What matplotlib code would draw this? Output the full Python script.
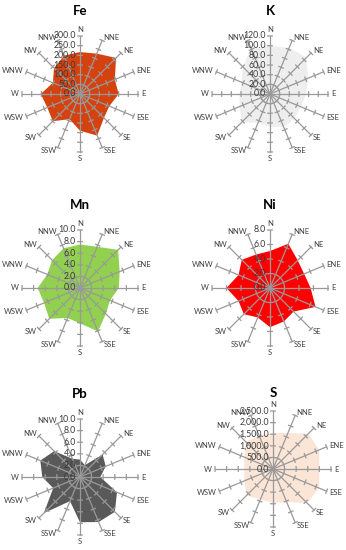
import numpy as np
import matplotlib
matplotlib.use('Agg')
import matplotlib.pyplot as plt
from matplotlib.transforms import offset_copy

plt.rcParams['font.family'] = ['Lato', 'DejaVu Sans']

directions = ['N', 'NNE', 'NE', 'ENE', 'E', 'ESE', 'SE', 'SSE',
              'S', 'SSW', 'SW', 'WSW', 'W', 'WNW', 'NW', 'NNW']

fe = [217, 226, 264, 195, 200, 164, 175, 233, 190, 141, 199, 183, 203, 152, 190, 215]
k = [100, 103, 107, 85, 75, 69, 72, 74, 68, 64, 83, 68, 63, 64, 79, 103]
mn = [7.5, 7.7, 9.3, 7.4, 6.7, 5.6, 6.3, 8.1, 6.1, 5.6, 7.5, 6.7, 7.3, 6.1, 6.8, 7.4]
ni = [5.1, 6.6, 5.4, 5.1, 5.6, 6.8, 4.6, 5.0, 5.4, 4.4, 5.1, 4.7, 6.0, 4.7, 5.5, 5.0]
pb = [3.0, 2.2, 5.5, 4.8, 3.5, 6.9, 8.5, 8.4, 7.8, 4.5, 8.8, 5.0, 6.5, 7.4, 6.3, 3.4]
s = [1550, 1680, 2150, 2150, 2000, 2150, 2080, 1540, 1470, 1420, 1620, 1340, 1240, 1340, 1650, 1560]

titles = ['Fe', 'K', 'Mn', 'Ni', 'Pb', 'S']
series = [fe, k, mn, ni, pb, s]
axis_max = [300, 120, 10, 8, 10, 2500]
axis_step = [50, 20, 2, 2, 2, 500]
colors = ['#D4420F', '#EEEEEE', '#92D050', '#FF0000', '#595959', '#FBE5D6']

# layout (pixels)
W, H = 346, 550
DPI = 100
centers = [(80, 94), (270, 94), (80, 288), (270, 288), (80, 477), (273, 469)]
title_y = [11, 11, 205, 205, 394, 393]
R = 58

fig = plt.figure(figsize=(W / DPI, H / DPI), dpi=DPI)
fig.patch.set_facecolor('white')

theta = np.arange(16) * 2 * np.pi / 16
axis_col = '#999999'
txt_col = '#3A3A3A'

for i in range(6):
    cx, cy = centers[i]
    ax = fig.add_axes([(cx - R) / W, 1 - (cy + R) / H, 2 * R / W, 2 * R / H],
                      projection='polar')
    ax.set_theta_zero_location('N')
    ax.set_theta_direction(-1)
    rmax = axis_max[i]
    ax.set_ylim(0, rmax)
    ax.axis('off')

    vals = np.array(series[i], dtype=float)
    th_c = np.append(theta, theta[0])
    v_c = np.append(vals, vals[0])
    ax.fill(th_c, v_c, color=colors[i], lw=0, zorder=1, clip_on=False)

    # radial axis lines
    for t in theta:
        ax.plot([t, t], [0, rmax], color=axis_col, lw=0.9, zorder=3, clip_on=False)
    # cross tick marks
    ticks = np.arange(axis_step[i], rmax + axis_step[i] * 0.5, axis_step[i])
    for t in theta:
        for rv in ticks:
            rpx = rv / rmax * R
            d = 2.3 / rpx
            tt = np.linspace(t - d, t + d, 7)
            ax.plot(tt, np.full_like(tt, rv), color=axis_col, lw=0.9,
                    zorder=3, clip_on=False)

    # value labels on the N axis
    tr = offset_copy(ax.transData, fig=fig, x=-4, y=0, units='dots')
    for rv in np.append(0, ticks):
        if rmax >= 1000:
            lab = '{:,.1f}'.format(rv)
        else:
            lab = '{:.1f}'.format(rv)
        ax.text(0, rv, lab, transform=tr, ha='right', va='center',
                fontsize=6.3, color=txt_col, zorder=4, clip_on=False)

    # direction labels
    for t, name in zip(theta, directions):
        sx, cy_ = np.sin(t), np.cos(t)
        pad = 3.0
        trl = offset_copy(ax.transData, fig=fig, x=sx * pad, y=cy_ * pad, units='dots')
        if abs(sx) < 0.1:
            ha = 'center'
            va = 'bottom' if cy_ > 0 else 'top'
        else:
            ha = 'left' if sx > 0 else 'right'
            va = 'center'
        ax.text(t, rmax, name, transform=trl, ha=ha, va=va, fontsize=5.5,
                color='#404040', clip_on=False)

    fig.text(cx / W, 1 - title_y[i] / H, titles[i], ha='center', va='center',
             fontsize=9.5, fontweight='bold', color='black')

fig.savefig('out.png', dpi=DPI, facecolor='white')
